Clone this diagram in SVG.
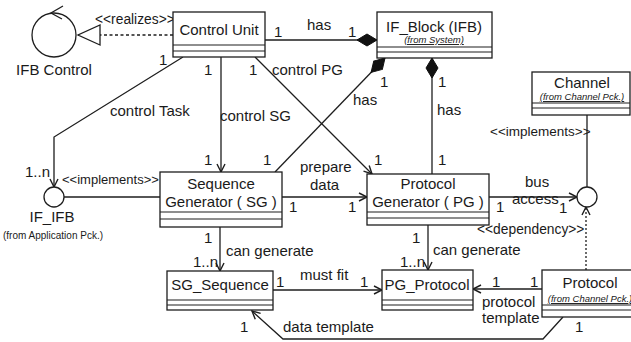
<svg xmlns="http://www.w3.org/2000/svg" width="631" height="342" viewBox="0 0 631 342">
  <style>
    .box { fill: #ffffff; stroke: #1e1e1e; stroke-width: 1.3; }
    .sep { stroke: #1e1e1e; stroke-width: 1.1; }
    .line { fill: none; stroke: #1e1e1e; stroke-width: 1.3; }
    .dash { fill: none; stroke: #1e1e1e; stroke-width: 1.3; stroke-dasharray: 3 2.5; }
    .dot { fill: none; stroke: #1e1e1e; stroke-width: 1.3; stroke-dasharray: 2 2; }
    text { font-family: "Liberation Sans", Arial, sans-serif; fill: #1a1a1a; }
    .name { font-size: 15px; text-anchor: middle; }
    .lbl { font-size: 15px; }
    .st { font-size: 13.8px; }
    .pkg { font-size: 9.5px; text-anchor: middle; text-decoration: underline; font-style: italic; }
    .pkg2 { font-size: 10px; text-anchor: middle; }
  </style>
  <defs>
    <marker id="arrow" markerUnits="userSpaceOnUse" markerWidth="10" markerHeight="10" refX="9" refY="5" orient="auto" overflow="visible">
      <path d="M1,1 L9,5 L1,9" fill="none" stroke="#1e1e1e" stroke-width="1.4"/>
    </marker>
    <marker id="diamond" markerUnits="userSpaceOnUse" markerWidth="20" markerHeight="12" refX="20" refY="6" orient="auto" overflow="visible">
      <path d="M0,6 L10,0 L20,6 L10,12 Z" fill="#111111" stroke="#111111" stroke-width="1"/>
    </marker>
    <marker id="realize" markerUnits="userSpaceOnUse" markerWidth="24" markerHeight="22" refX="22" refY="10" orient="auto" overflow="visible">
      <path d="M0,0 L22,10 L0,20 Z" fill="#ffffff" stroke="#1e1e1e" stroke-width="1.3"/>
    </marker>
  </defs>

  <rect width="631" height="342" fill="#ffffff"/>

  <!-- connectors -->
  <g id="connectors">
    <!-- Control Unit realizes IFB Control -->
    <line class="dash" x1="173" y1="35" x2="78" y2="35" marker-end="url(#realize)"/>
    <!-- Control Unit has IF_Block -->
    <line class="line" x1="265" y1="40" x2="377" y2="40" marker-end="url(#diamond)"/>
    <!-- control Task -->
    <polyline class="line" points="183,57 54,137 54,187" marker-end="url(#arrow)"/>
    <!-- control SG -->
    <line class="line" x1="221" y1="57" x2="221" y2="172" marker-end="url(#arrow)"/>
    <!-- control PG -->
    <line class="line" x1="255" y1="57" x2="372" y2="174" marker-end="url(#arrow)"/>
    <!-- Sequence Generator part of IF_Block -->
    <line class="line" x1="275" y1="172" x2="385" y2="58" marker-end="url(#diamond)"/>
    <!-- Protocol Generator part of IF_Block -->
    <line class="line" x1="432" y1="174" x2="432" y2="58" marker-end="url(#diamond)"/>
    <!-- SG implements IF_IFB -->
    <line class="line" x1="64" y1="197" x2="160" y2="197"/>
    <!-- prepare data -->
    <line class="line" x1="282" y1="197" x2="367" y2="197" marker-end="url(#arrow)"/>
    <!-- bus access -->
    <line class="line" x1="489" y1="197" x2="577" y2="197" marker-end="url(#arrow)"/>
    <!-- Channel implements interface -->
    <line class="line" x1="587" y1="115" x2="587" y2="187"/>
    <!-- Protocol dependency -->
    <line class="dot" x1="586" y1="270" x2="586" y2="207" marker-end="url(#arrow)"/>
    <!-- can generate -->
    <line class="line" x1="220" y1="227" x2="220" y2="271" marker-end="url(#arrow)"/>
    <line class="line" x1="428" y1="225" x2="428" y2="270" marker-end="url(#arrow)"/>
    <!-- must fit -->
    <line class="line" x1="273" y1="290" x2="382" y2="290" marker-end="url(#arrow)"/>
    <!-- protocol template -->
    <line class="line" x1="542" y1="289" x2="473" y2="289" marker-end="url(#arrow)"/>
    <!-- data template -->
    <polyline class="line" points="563,317 543,339 283,339 252,311" marker-end="url(#arrow)"/>
  </g>

  <!-- connector labels -->
  <g id="labels">
    <text class="st" x="95" y="24">&lt;&lt;realizes&gt;&gt;</text>
    <text class="lbl" x="274" y="37">1</text>
    <text class="lbl" x="307" y="30">has</text>
    <text class="lbl" x="348" y="37">1</text>
    <text class="lbl" x="159" y="65">1</text>
    <text class="lbl" x="204" y="75">1</text>
    <text class="lbl" x="249" y="75">1</text>
    <text class="lbl" x="272" y="75">control PG</text>
    <text class="lbl" x="380" y="87">1</text>
    <text class="lbl" x="438" y="87">1</text>
    <text class="lbl" x="353" y="105">has</text>
    <text class="lbl" x="437" y="115">has</text>
    <text class="lbl" x="110" y="116">control Task</text>
    <text class="lbl" x="220" y="121">control SG</text>
    <text class="st" x="490" y="136" style="font-size:13.5px">&lt;&lt;implements&gt;&gt;</text>
    <text class="lbl" x="204" y="165">1</text>
    <text class="lbl" x="263" y="165">1</text>
    <text class="lbl" x="374" y="165">1</text>
    <text class="lbl" x="438" y="165">1</text>
    <text class="lbl" x="300" y="172">prepare</text>
    <text class="lbl" x="310" y="190">data</text>
    <text class="lbl" x="25" y="177">1..n</text>
    <text class="st" x="62" y="184" style="font-size:13px">&lt;&lt;implements&gt;&gt;</text>
    <text class="lbl" x="525" y="187">bus</text>
    <text class="lbl" x="512" y="204">access</text>
    <text class="lbl" x="289" y="212">1</text>
    <text class="lbl" x="348" y="212">1</text>
    <text class="lbl" x="496" y="212">1</text>
    <text class="lbl" x="559" y="213">1</text>
    <text class="st" x="477" y="234">&lt;&lt;dependency&gt;&gt;</text>
    <text class="lbl" x="204" y="243">1</text>
    <text class="lbl" x="412" y="243">1</text>
    <text class="lbl" x="226" y="256">can generate</text>
    <text class="lbl" x="433" y="255">can generate</text>
    <text class="lbl" x="193" y="267">1..n</text>
    <text class="lbl" x="400" y="267">1..n</text>
    <text class="lbl" x="300" y="280">must fit</text>
    <text class="lbl" x="276" y="287">1</text>
    <text class="lbl" x="360" y="287">1</text>
    <text class="lbl" x="492" y="287">1</text>
    <text class="lbl" x="530" y="287">1</text>
    <text class="lbl" x="482" y="307">protocol</text>
    <text class="lbl" x="482" y="323">template</text>
    <text class="lbl" x="240" y="332">1</text>
    <text class="lbl" x="283" y="332">data template</text>
    <text class="lbl" x="575" y="332">1</text>
  </g>

  <!-- IFB Control (control object) -->
  <g id="ifb-control">
    <circle class="box" cx="54" cy="35" r="22"/>
    <path class="line" d="M63,6 L51,13 L62,19"/>
    <text class="name" x="54" y="75">IFB Control</text>
  </g>

  <!-- Control Unit -->
  <g id="control-unit">
    <rect class="box" x="173" y="12" width="92" height="45"/>
    <line class="sep" x1="173" y1="45" x2="265" y2="45"/>
    <line class="sep" x1="173" y1="51" x2="265" y2="51"/>
    <text class="name" x="219" y="35">Control Unit</text>
  </g>

  <!-- IF_Block -->
  <g id="if-block">
    <rect class="box" x="377" y="12" width="115" height="46"/>
    <line class="sep" x1="377" y1="47" x2="492" y2="47"/>
    <line class="sep" x1="377" y1="52" x2="492" y2="52"/>
    <text class="name" x="434" y="32">IF_Block (IFB)</text>
    <text class="pkg" x="434" y="43">(from System)</text>
  </g>

  <!-- Channel -->
  <g id="channel">
    <rect class="box" x="532" y="72" width="98" height="43"/>
    <line class="sep" x1="532" y1="103" x2="630" y2="103"/>
    <line class="sep" x1="532" y1="108" x2="630" y2="108"/>
    <text class="name" x="582" y="88">Channel</text>
    <text class="pkg" x="582" y="100">(from Channel Pck.)</text>
  </g>

  <!-- IF_IFB interface -->
  <g id="if-ifb">
    <circle class="box" cx="54" cy="197" r="10"/>
    <text class="name" x="52" y="222">IF_IFB</text>
    <text class="pkg2" x="53" y="239">(from Application Pck.)</text>
  </g>

  <!-- Sequence Generator -->
  <g id="sequence-generator">
    <rect class="box" x="160" y="172" width="122" height="55"/>
    <line class="sep" x1="160" y1="212" x2="282" y2="212"/>
    <line class="sep" x1="160" y1="219" x2="282" y2="219"/>
    <text class="name" x="221" y="189">Sequence</text>
    <text class="name" x="221" y="207">Generator ( SG )</text>
  </g>

  <!-- Protocol Generator -->
  <g id="protocol-generator">
    <rect class="box" x="367" y="174" width="122" height="51"/>
    <line class="sep" x1="367" y1="212" x2="489" y2="212"/>
    <line class="sep" x1="367" y1="218" x2="489" y2="218"/>
    <text class="name" x="428" y="189">Protocol</text>
    <text class="name" x="428" y="207">Generator ( PG )</text>
  </g>

  <!-- bus interface -->
  <g id="bus-interface">
    <circle class="box" cx="587" cy="197" r="10"/>
  </g>

  <!-- SG_Sequence -->
  <g id="sg-sequence">
    <rect class="box" x="167" y="271" width="106" height="39"/>
    <line class="sep" x1="167" y1="300" x2="273" y2="300"/>
    <line class="sep" x1="167" y1="305" x2="273" y2="305"/>
    <text class="name" x="220" y="290">SG_Sequence</text>
  </g>

  <!-- PG_Protocol -->
  <g id="pg-protocol">
    <rect class="box" x="382" y="270" width="91" height="40"/>
    <line class="sep" x1="382" y1="300" x2="473" y2="300"/>
    <line class="sep" x1="382" y1="305" x2="473" y2="305"/>
    <text class="name" x="427" y="290">PG_Protocol</text>
  </g>

  <!-- Protocol -->
  <g id="protocol">
    <rect class="box" x="542" y="270" width="98" height="47"/>
    <line class="sep" x1="542" y1="305" x2="640" y2="305"/>
    <line class="sep" x1="542" y1="310" x2="640" y2="310"/>
    <text class="name" x="590" y="288">Protocol</text>
    <text class="pkg" x="590" y="302">(from Channel Pck.)</text>
  </g>
</svg>
